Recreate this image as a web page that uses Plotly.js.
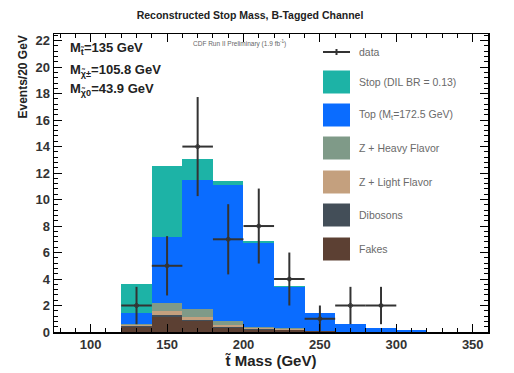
<!DOCTYPE html>
<html>
<head>
<meta charset="utf-8">
<script src="https://cdn.plot.ly/plotly-3.0.1.min.js"></script>
<style>html,body{margin:0;padding:0;background:#fff;}#chart{width:514px;height:373px;}</style>
</head>
<body>
<div id="chart"></div>
<script>
// Bin centres (20 GeV bins)
const binCenters = [130, 150, 170, 190, 210, 230, 250, 270, 290, 310];
// Stacked background / signal contributions (events per bin)
const fakes     = [0.40, 1.10, 0.80, 0.30, 0.15, 0.12, 0.05, 0.00, 0.00, 0.00];
const dibosons  = [0.05, 0.20, 0.10, 0.08, 0.05, 0.05, 0.02, 0.01, 0.00, 0.00];
const zLight    = [0.10, 0.30, 0.25, 0.12, 0.10, 0.08, 0.02, 0.01, 0.00, 0.00];
const zHeavy    = [0.05, 0.60, 0.60, 0.30, 0.05, 0.05, 0.01, 0.01, 0.00, 0.00];
const topQuark  = [0.82, 5.00, 9.70, 10.27, 6.37, 3.10, 1.35, 0.60, 0.30, 0.12];
const stop      = [2.23, 5.37, 1.60, 0.33, 0.18, 0.05, 0.02, 0.00, 0.00, 0.00];
// Data points
const dataX   = [130, 150, 170, 190, 210, 230, 250, 270, 290];
const dataY   = [2, 5, 14, 7, 8, 4, 1, 2, 2];
const dataErr = [1.41, 2.24, 3.74, 2.65, 2.83, 2.0, 1.0, 1.41, 1.41];
const dataXErr = [10, 10, 10, 10, 10, 10, 10, 10, 10];

const colors = {
  stop: '#1db3a6', top: '#0a6cff', zhf: '#7f9a88', zlf: '#c4a07e', dib: '#434e58', fakes: '#5c4033'
};
const legendLabels = ['data', 'Stop (DIL BR = 0.13)', 'Top (M<sub>t</sub>=172.5 GeV)', 'Z + Heavy Flavor', 'Z + Light Flavor', 'Dibosons', 'Fakes'];
const legendColors = [null, colors.stop, colors.top, colors.zhf, colors.zlf, colors.dib, colors.fakes];

function bar(name, y, color) {
  return {type: 'bar', name: name, x: binCenters, y: y, width: 20,
    marker: {color: color, line: {width: 0}}, showlegend: false, hoverinfo: 'skip'};
}
const traces = [
  bar('Fakes', fakes, colors.fakes),
  bar('Dibosons', dibosons, colors.dib),
  bar('Z + Light Flavor', zLight, colors.zlf),
  bar('Z + Heavy Flavor', zHeavy, colors.zhf),
  bar('Top', topQuark, colors.top),
  bar('Stop', stop, colors.stop),
  {type: 'scatter', mode: 'markers', name: 'data', x: dataX, y: dataY, showlegend: false,
    marker: {symbol: 'circle-open', size: 4, color: '#333', line: {width: 1, color: '#333'}},
    error_y: {type: 'data', array: dataErr, visible: true, color: '#333', thickness: 2, width: 0},
    error_x: {type: 'data', array: dataXErr, visible: true, color: '#333', thickness: 2, width: 0}}
];

// pixel -> paper helpers for annotation layout
const L = 54, R = 26, T = 34, B = 41, W = 514, H = 373;
const pw = W - L - R, ph = H - T - B;
const px = p => (p - L) / pw;
const py = p => 1 - (p - T) / ph;
const FF = 'Liberation Sans, Arial, sans-serif';

const annotations = [
  {xref: 'paper', yref: 'paper', x: px(22), y: 1, xanchor: 'center', yanchor: 'top', textangle: -90,
   text: '<b>Events/20 GeV</b>', showarrow: false, font: {family: FF, size: 12, color: '#222'}},
  {xref: 'paper', yref: 'paper', x: px(68), y: py(48), xanchor: 'left', yanchor: 'middle',
   text: '<b>M<sub>t̃</sub>=135 GeV</b>', showarrow: false, font: {family: FF, size: 13, color: '#222'}},
  {xref: 'paper', yref: 'paper', x: px(68), y: py(70), xanchor: 'left', yanchor: 'middle',
   text: '<b>M<sub>χ̃±</sub>=105.8 GeV</b>', showarrow: false, font: {family: FF, size: 13, color: '#222'}},
  {xref: 'paper', yref: 'paper', x: px(68), y: py(90), xanchor: 'left', yanchor: 'middle',
   text: '<b>M<sub>χ̃0</sub>=43.9 GeV</b>', showarrow: false, font: {family: FF, size: 13, color: '#222'}},
  {xref: 'paper', yref: 'paper', x: px(239), y: py(44), xanchor: 'center', yanchor: 'middle',
   text: 'CDF Run II Preliminary (1.9 fb<sup>-1</sup>)', showarrow: false, font: {family: FF, size: 6.5, color: '#666'}}
];
const shapes = [];
const legY = [52, 82, 115, 148, 182, 215, 249];
legendLabels.forEach((lab, i) => {
  annotations.push({xref: 'paper', yref: 'paper', x: px(357), y: py(legY[i]), xanchor: 'left', yanchor: 'middle',
    text: lab, showarrow: false, font: {family: FF, size: 10.5, color: '#6a6a6a'}});
  if (i === 0) {
    shapes.push({type: 'line', xref: 'paper', yref: 'paper', x0: px(323), x1: px(350), y0: py(legY[i]), y1: py(legY[i]),
      line: {color: '#333', width: 2}});
    shapes.push({type: 'line', xref: 'paper', yref: 'paper', x0: px(336.5), x1: px(336.5), y0: py(legY[i] - 3), y1: py(legY[i] + 3),
      line: {color: '#333', width: 2}});
  } else {
    shapes.push({type: 'rect', xref: 'paper', yref: 'paper', x0: px(323), x1: px(350), y0: py(legY[i] + 11.5), y1: py(legY[i] - 11.5),
      fillcolor: legendColors[i], line: {width: 0}});
  }
});

const tickFont = {family: FF, size: 13, color: '#333', weight: 'bold'};
const layout = {
  width: W, height: H,
  margin: {l: L, r: R, t: T, b: B, pad: 0},
  paper_bgcolor: '#fff', plot_bgcolor: '#fff',
  barmode: 'stack', bargap: 0,
  showlegend: false,
  title: {text: '<b>Reconstructed Stop Mass, B-Tagged Channel</b>', x: 250 / W, xanchor: 'center',
    y: 1 - 15 / H, yanchor: 'middle', yref: 'container',
    font: {family: FF, size: 10.5, color: '#222'}},
  xaxis: {range: [76, 360], tick0: 0, dtick: 50, ticks: 'inside', ticklen: 8, tickwidth: 1, tickcolor: '#000',
    minor: {dtick: 10, ticks: 'inside', ticklen: 4, tickcolor: '#000'},
    showline: true, linecolor: '#000', linewidth: 1.5, mirror: 'ticks', showgrid: false, zeroline: false,
    tickfont: tickFont,
    title: {text: '<b>t̃ Mass (GeV)</b>', standoff: 4, font: {family: FF, size: 15, color: '#222'}}},
  yaxis: {range: [0, 22.5], tick0: 0, dtick: 2, ticks: 'inside', ticklen: 8, tickwidth: 1, tickcolor: '#000',
    minor: {dtick: 0.4, ticks: 'inside', ticklen: 4, tickcolor: '#000'},
    showline: true, linecolor: '#000', linewidth: 1.5, mirror: 'ticks', showgrid: false, zeroline: false,
    tickfont: tickFont},
  annotations: annotations,
  shapes: shapes
};
Plotly.newPlot('chart', traces, layout, {displayModeBar: false, staticPlot: true});
</script>
</body>
</html>
